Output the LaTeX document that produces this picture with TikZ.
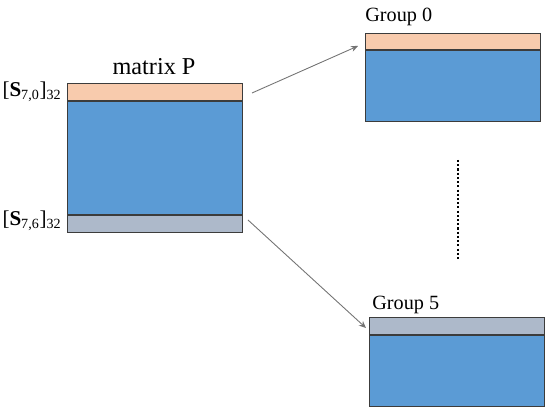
\documentclass[tikz,border=0pt]{standalone}
\usepackage{fontspec}
\setmainfont{Liberation Serif}
\usetikzlibrary{arrows.meta}
\definecolor{rowpeach}{HTML}{F8CBAD}
\definecolor{rowblue}{HTML}{5B9BD5}
\definecolor{rowgray}{HTML}{ADB9CA}
\definecolor{edgegray}{HTML}{3C3C3C}
\tikzset{
	band/.style={draw=edgegray, line width=0.6pt, inner sep=0pt, anchor=north west, minimum width=3.5cm},
	lbl/.style={inner sep=0pt, font=\fontsize{11.5}{14}\selectfont},
	link/.style={draw=gray, line width=0.5pt, -{Stealth[length=4pt,width=3.5pt]}, color=gray!90!black}
}

\begin{document}
\begin{tikzpicture}
			\def \hor{ 0.02 };
			\def \ver{ -0.02 };
			\useasboundingbox (0,0) rectangle (550*\hor,412*\ver);
			% matrix P
			\node[band, fill=rowpeach, minimum height=0.34cm] (p0) at (67*\hor,83*\ver) {};
			\node[band, fill=rowblue, minimum height=2.26cm] (pmid) at (p0.south west) {};
			\node[band, fill=rowgray, minimum height=0.34cm] (p6) at (pmid.south west) {};
			\node[lbl, font=\fontsize{13.8}{16}\selectfont] (ptitle) at (154*\hor,67*\ver) {matrix P};
			\node[lbl, anchor=east, font=\fontsize{12}{14}\selectfont] (s0) at (62*\hor,92*\ver) {[\textbf{S}\textsubscript{7,0}]\textsubscript{32}};
			\node[lbl, anchor=east, font=\fontsize{12}{14}\selectfont] (s6) at (62*\hor,221*\ver) {[\textbf{S}\textsubscript{7,6}]\textsubscript{32}};
			% group 0
			\node[band, fill=rowpeach, minimum height=0.32cm] (g0top) at (365*\hor,33*\ver) {};
			\node[band, fill=rowblue, minimum height=1.42cm] (g0body) at (g0top.south west) {};
			\node[lbl, anchor=west] (g0title) at (365*\hor,17*\ver) {Group 0};
			% group 5
			\node[band, fill=rowgray, minimum height=0.34cm] (g5top) at (369*\hor,317*\ver) {};
			\node[band, fill=rowblue, minimum height=1.42cm] (g5body) at (g5top.south west) {};
			\node[lbl, anchor=west] (g5title) at (372*\hor,305*\ver) {Group 5};
			% arrows
			\coordinate (a0) at (252*\hor,93*\ver);
			\coordinate (b0) at (358*\hor,46*\ver);
			\coordinate (a6) at (248*\hor,220*\ver);
			\coordinate (b6) at (366*\hor,328*\ver);
			\draw[link] (a0) -- (b0);
			\draw[link] (a6) -- (b6);
			% dots
			\coordinate (d0) at (458*\hor,160*\ver);
			\coordinate (d1) at (458*\hor,260*\ver);
			\draw[line width=1.3pt, dash pattern=on 1.2pt off 1.2pt] (d0) -- (d1);
		\end{tikzpicture}
\end{document}
